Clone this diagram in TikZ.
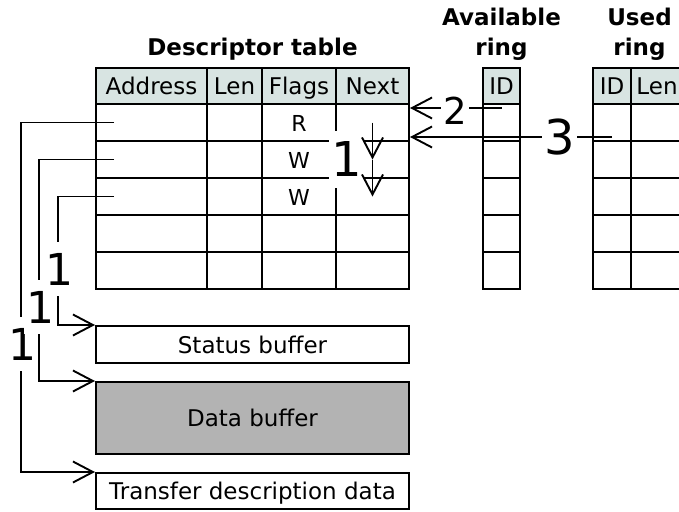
\documentclass[tikz,border=0pt]{standalone}
\usepackage{fontspec}
\setmainfont{DejaVu Sans}
\usetikzlibrary{arrows.meta}
\definecolor{headfill}{RGB}{216,228,226}
\definecolor{datafill}{RGB}{179,179,179}
\begin{document}
\begin{tikzpicture}[x=1pt, y=-1pt,
    cell/.style={draw, line width=2pt, inner sep=0pt, minimum height=37pt,
      text height=17pt, text depth=0pt, font=\fontsize{22}{22}\selectfont},
    headcell/.style={cell, fill=headfill, minimum height=36pt, text height=17pt,
      font=\fontsize{23}{23}\selectfont},
    title/.style={align=center, inner sep=0pt, font=\fontsize{23}{30}\selectfont\bfseries},
    buffer/.style={draw, line width=2pt, inner sep=0pt, minimum width=313pt,
      text height=17pt, text depth=0pt, font=\fontsize{23}{23}\selectfont},
    link/.style={line width=1.9pt, -{Straight Barb[length=20pt,width=21pt]}},
    num/.style={fill=white, inner xsep=2pt, inner ysep=11pt, font=\fontsize{#1}{#1}\selectfont}]

  \useasboundingbox (0,0) rectangle (679,511);
  \begin{scope}
    \clip (0,0) rectangle (679,511);

    \node[title] (desctitle) at (252.5,49) {Descriptor table};
    \node[title] (availtitle) at (501.5,34) {Available\\ring};
    \node[title] (usedtitle) at (639.5,34) {Used\\ring};

    \begin{scope}[every node/.style=headcell]
      \foreach \c/\x/\w/\t in {a/151.5/111/Address, l/234.5/55/Len, f/299/74/Flags, n/372.5/73/Next}
        \node[minimum width=\w pt] (\c0) at (\x,86) {\t};
      \node[minimum width=37pt] (r0) at (501.5,86) {ID};
      \node[minimum width=38pt] (u0) at (612,86) {ID};
      \node[minimum width=52pt] (v0) at (657,86) {Len};
    \end{scope}

    \begin{scope}[every node/.style=cell]
      \foreach \y [count=\r] in {122.5,159.5,196.5,233.5,270.5} {
        \foreach \c/\x/\w in {a/151.5/111, l/234.5/55, f/299/74, n/372.5/73, r/501.5/37, u/612/38, v/657/52}
          \node[minimum width=\w pt] (\c\r) at (\x,\y) {};
      }
      \node[draw=none] (flagr) at (f1) {R};
      \node[draw=none] (flagwa) at (f2) {W};
      \node[draw=none] (flagwb) at (f3) {W};
    \end{scope}

    \node[buffer, minimum height=37pt] (stat) at (252.5,344.5) {Status buffer};
    \node[buffer, fill=datafill, minimum height=72pt] (data) at (252.5,418) {Data buffer};
    \node[buffer, minimum height=36pt] (tdd) at (252.5,491) {Transfer description data};

    \draw[link] ([xshift=19pt]a1.west) -| ([xshift=-74pt]tdd.north west) -- (tdd.north west);
    \draw[link] ([xshift=19pt]a2.west) -| ([xshift=-56pt]data.north west) -- (data.north west);
    \draw[link] ([xshift=19pt]a3.west) -| ([xshift=-37pt]stat.north west) -- (stat.north west);
    \node[num=44] (onea) at (22,344) {1};
    \node[num=44] (oneb) at (40,307) {1};
    \node[num=44] (onec) at (59,269) {1};

    \node[num=48] (onenext) at (346.5,159.5) {1};
    \draw[link] (n1.center) -- (n2.center);
    \draw[link] (n2.center) -- (n3.center);

    \draw[link] ([yshift=14.5pt]r1.center) -- ([yshift=14.5pt]n1.east);
    \node[num=37] (two) at (455,111) {2};
    \draw[link] ([yshift=-14.5pt]u1.center) -- ([yshift=-14.5pt]n1.east);
    \node[num=48] (three) at (559.5,137.5) {3};
  \end{scope}

\end{tikzpicture}
\end{document}
